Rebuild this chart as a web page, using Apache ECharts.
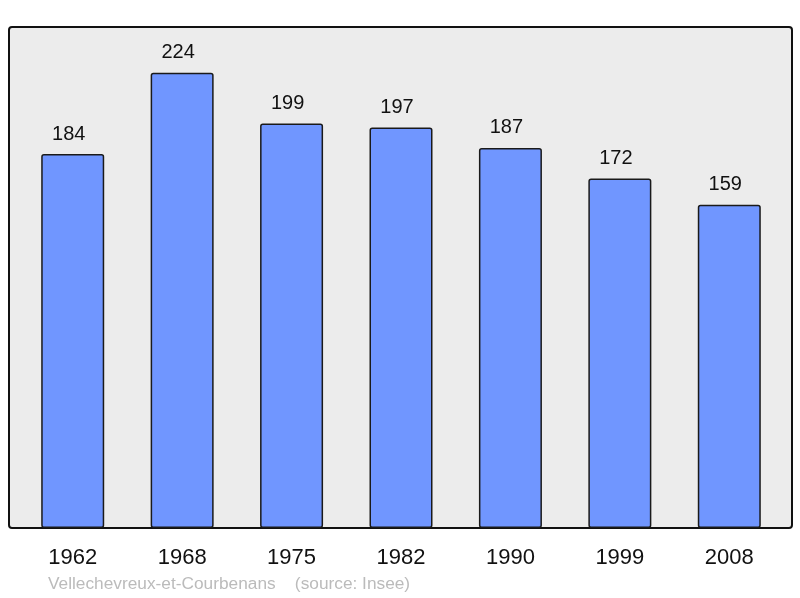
<!DOCTYPE html>
<html>
<head>
<meta charset="utf-8">
<script src="https://cdn.jsdelivr.net/npm/echarts@6/dist/echarts.min.js"></script>
<style>html,body{margin:0;padding:0;background:#fff;}#c{width:800px;height:598px;}</style>
</head>
<body>
<div id="c"></div>
<script>
const years = ['1962', '1968', '1975', '1982', '1990', '1999', '2008'];
const population = [184, 224, 199, 197, 187, 172, 159];
const footerText = 'Vellechevreux-et-Courbenans    (source: Insee)';

const chart = echarts.init(document.getElementById('c'));
chart.setOption({
  animation: false,
  backgroundColor: '#ffffff',
  textStyle: { fontFamily: 'Liberation Sans, Arial, sans-serif' },
  grid: { left: 18, right: 16, top: 27, bottom: 70 },
  graphic: [
    {
      type: 'rect', z: -10,
      shape: { x: 9, y: 27, width: 783, height: 501, r: 3 },
      style: { fill: '#ececec', stroke: '#111', lineWidth: 2 }
    },
    {
      type: 'text', left: 48, top: 576,
      style: { text: footerText, fill: '#bbbbbb', fontSize: 17.3, fontFamily: 'Liberation Sans, Arial, sans-serif' }
    }
  ],
  xAxis: {
    type: 'category', data: years,
    axisLine: { show: false }, axisTick: { show: false },
    axisLabel: { fontSize: 22, color: '#111', margin: 19 }
  },
  yAxis: {
    type: 'value', min: 0, max: 246.5,
    show: false, splitLine: { show: false }
  },
  series: [{
    type: 'bar', data: population, barWidth: 63,
    itemStyle: { color: '#7096ff', borderColor: '#1a1a1a', borderWidth: 1.5, borderRadius: 2 },
    label: { show: true, position: 'top', distance: 10, offset: [-4, 0], fontSize: 20, color: '#111' }
  }]
});
</script>
</body>
</html>
